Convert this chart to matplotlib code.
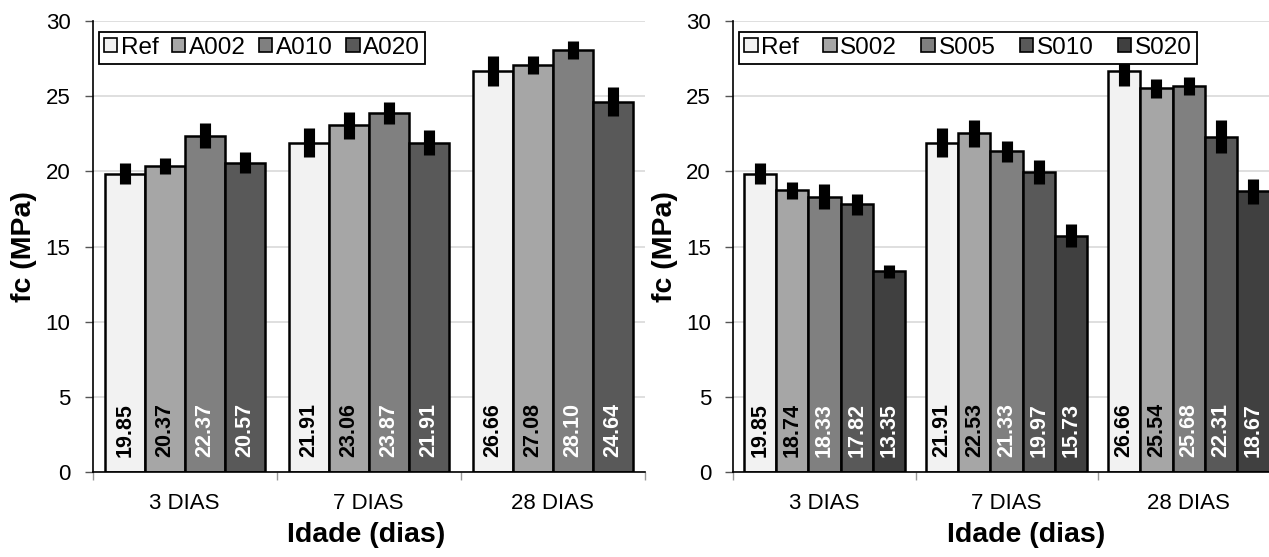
import numpy as np
import matplotlib
matplotlib.use("Agg")
import matplotlib.pyplot as plt

plt.rcParams["font.family"] = ["Liberation Sans", "DejaVu Sans"]

# data
categories = ["3 DIAS", "7 DIAS", "28 DIAS"]

a_names = ["Ref", "A002", "A010", "A020"]
a_values = [
    [19.85, 21.91, 26.66],
    [20.37, 23.06, 27.08],
    [22.37, 23.87, 28.10],
    [20.57, 21.91, 24.64],
]
a_errors = [
    [0.70, 0.97, 1.00],
    [0.55, 0.89, 0.60],
    [0.82, 0.72, 0.60],
    [0.69, 0.82, 0.95],
]

s_names = ["Ref", "S002", "S005", "S010", "S020"]
s_values = [
    [19.85, 21.91, 26.66],
    [18.74, 22.53, 25.54],
    [18.33, 21.33, 25.68],
    [17.82, 19.97, 22.31],
    [13.35, 15.73, 18.67],
]
s_errors = [
    [0.70, 0.97, 1.00],
    [0.58, 0.89, 0.63],
    [0.83, 0.70, 0.60],
    [0.71, 0.81, 1.10],
    [0.45, 0.75, 0.81],
]

a_colors = ["#f2f2f2", "#a6a6a6", "#808080", "#595959"]
s_colors = ["#f2f2f2", "#a6a6a6", "#808080", "#595959", "#404040"]
a_text = ["black", "black", "white", "white"]
s_text = ["black", "black", "white", "white", "white"]


def draw_panel(ax, names, values, errors, colors, text_colors, width, colspacing, xlabel_x):
    x = np.arange(len(categories))
    n = len(names)
    for i in range(n):
        pos = x + (i - (n - 1) / 2) * width
        ax.bar(pos, values[i], width, color=colors[i], edgecolor="black",
               linewidth=1.8, label=names[i], zorder=2)
        ax.errorbar(pos, values[i], yerr=errors[i], fmt="none", ecolor="black",
                    elinewidth=8, capsize=0, zorder=3)
        for p, v in zip(pos, values[i]):
            ax.text(p, 1.0, "%.2f" % v, rotation=90, ha="center", va="bottom",
                    fontsize=15.5, fontweight="bold", color=text_colors[i], zorder=4)

    ax.set_xlim(-0.5, 2.5)
    ax.set_ylim(0, 30)
    ax.set_yticks(range(0, 31, 5))
    ax.set_xticks(x)
    ax.set_xticklabels(categories)
    ax.set_xticks([-0.5, 0.5, 1.5, 2.5], minor=True)
    ax.tick_params(axis="x", which="major", length=0, pad=15, labelsize=16)
    ax.tick_params(axis="x", which="minor", length=6, width=1, color="#999999", direction="out")
    ax.tick_params(axis="y", length=6, width=1, color="#555555", pad=10, labelsize=16)

    ax.yaxis.grid(True, color="#d9d9d9", linewidth=1.2, zorder=0)
    ax.set_axisbelow(True)
    for side in ["top", "right"]:
        ax.spines[side].set_visible(False)
    ax.spines["left"].set_linewidth(1.2)
    ax.spines["bottom"].set_linewidth(1.2)

    ax.set_ylabel("fc (MPa)", fontsize=20.5, fontweight="bold")
    ax.yaxis.set_label_coords(-0.101, 0.5)
    ax.set_xlabel("Idade (dias)", fontsize=20.5, fontweight="bold")
    ax.xaxis.set_label_coords(xlabel_x, -0.11)

    leg = ax.legend(loc="upper left", bbox_to_anchor=(0.011, 0.976), ncol=n,
                    fontsize=17.5, frameon=True, fancybox=False, borderaxespad=0,
                    handlelength=0.55, handleheight=0.55, handletextpad=0.15,
                    columnspacing=colspacing, borderpad=0.2, framealpha=1)
    leg.get_frame().set_edgecolor("black")
    leg.get_frame().set_linewidth(1.3)
    for h in leg.legend_handles:
        h.set_linewidth(1.2)
    leg.set_zorder(10)


fig = plt.figure(figsize=(12.69, 5.57), dpi=100)

ax1 = fig.add_axes([92.7 / 1269, 84.7 / 557, 552 / 1269, 451.3 / 557])
draw_panel(ax1, a_names, a_values, a_errors, a_colors, a_text, 0.2174, 0.55, 0.495)

ax2 = fig.add_axes([733.3 / 1269, 84.7 / 557, 546.6 / 1269, 451.3 / 557])
draw_panel(ax2, s_names, s_values, s_errors, s_colors, s_text, 0.1773, 1.0, 0.535)

fig.savefig("out.png", dpi=100)
plt.close()
